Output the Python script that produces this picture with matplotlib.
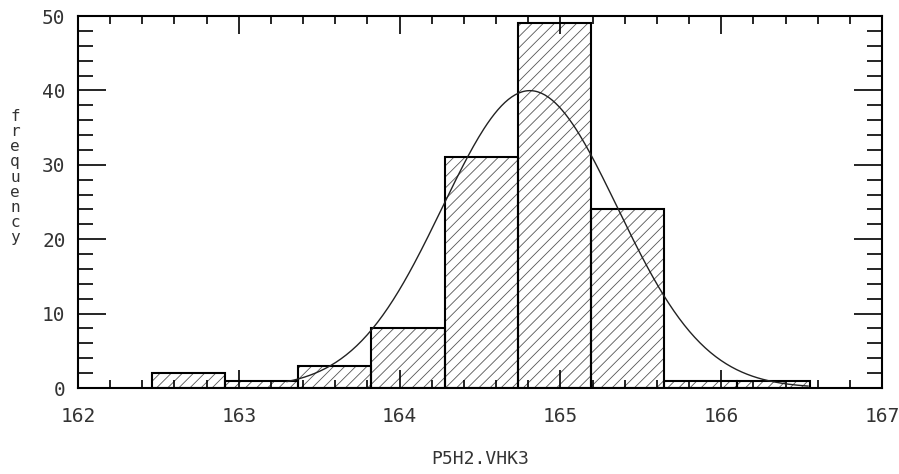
import numpy as np
import matplotlib
matplotlib.use("Agg")
import matplotlib.pyplot as plt
from matplotlib.ticker import MultipleLocator

# Histogram of P5H2.VHK3 with a fitted normal curve
bin_start = 162.46
bin_width = 0.455
counts = [2, 1, 3, 8, 31, 49, 24, 1, 1]
fit_mean = 164.81
fit_sd = 0.545
curve_range = (163.30, 166.54)

x_ticks = [162, 163, 164, 165, 166, 167]
y_ticks = [0, 10, 20, 30, 40, 50]

plt.rcParams["hatch.linewidth"] = 0.6
font = "DejaVu Sans Mono"

fig = plt.figure(figsize=(8.99, 4.74), dpi=100)
ax = fig.add_axes([78 / 899, 1 - 388 / 474, (882 - 78) / 899, (388 - 16) / 474])

lefts = bin_start + bin_width * np.arange(len(counts))
# hatched fill
ax.bar(lefts, counts, width=bin_width, align="edge", color="white",
       edgecolor="#555555", linewidth=0, hatch="///", zorder=1)
# bar outlines
ax.bar(lefts, counts, width=bin_width, align="edge", fill=False,
       edgecolor="black", linewidth=1.5, zorder=2)

# fitted normal density scaled to counts
n_total = sum(counts)
xs = np.linspace(curve_range[0], curve_range[1], 300)
ys = n_total * bin_width / (fit_sd * np.sqrt(2 * np.pi)) * np.exp(-0.5 * ((xs - fit_mean) / fit_sd) ** 2)
ax.plot(xs, ys, color="#222222", linewidth=1.0, zorder=3)

ax.set_xlim(162, 167)
ax.set_ylim(0, 50)
ax.set_xticks(x_ticks)
ax.set_yticks(y_ticks)
ax.xaxis.set_minor_locator(MultipleLocator(0.2))
ax.yaxis.set_minor_locator(MultipleLocator(2))

ax.tick_params(axis="x", which="both", direction="in", top=True, bottom=True,
               width=1.2, color="black")
ax.tick_params(axis="x", which="major", length=13, pad=14)
ax.tick_params(axis="x", which="minor", length=5.5)
ax.tick_params(axis="y", which="both", direction="in", left=True, right=True,
               width=1.2, color="black")
ax.tick_params(axis="y", which="major", length=20, pad=9)
ax.tick_params(axis="y", which="minor", length=11)

for lab in ax.get_xticklabels() + ax.get_yticklabels():
    lab.set_fontfamily(font)
    lab.set_fontsize(14)
    lab.set_color("#333333")

for sp in ax.spines.values():
    sp.set_linewidth(1.5)

ax.set_xlabel("P5H2.VHK3", fontfamily=font, fontsize=13, color="#333333", labelpad=17)

# vertical stacked axis title
fig.text(15 / 899, 1 - 177 / 474, "\n".join("frequency"), fontfamily=font,
         fontsize=11.5, color="#333333", ha="center", va="center", linespacing=1.02)

fig.savefig("out.png", dpi=100)
